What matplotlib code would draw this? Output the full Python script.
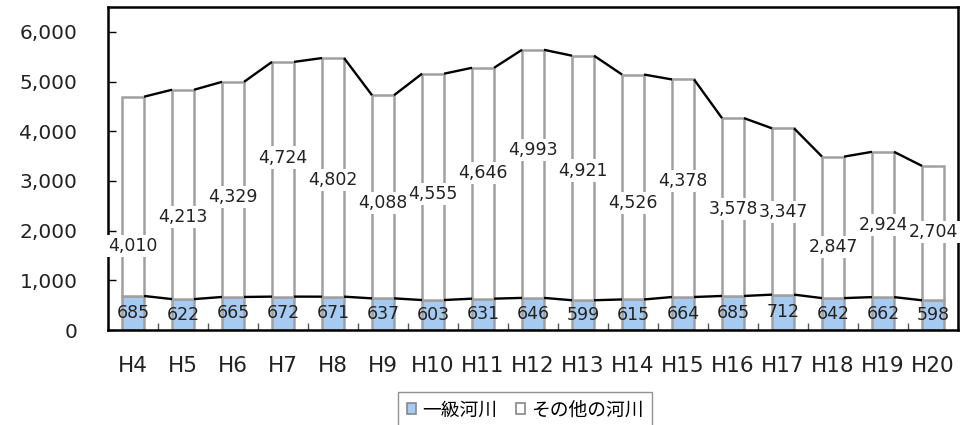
import matplotlib
matplotlib.use("Agg")
import matplotlib.pyplot as plt
from matplotlib.patches import Patch
import numpy as np

plt.rcParams['font.family'] = ['DejaVu Sans', 'Noto Sans CJK JP']

# data
years = ['H4', 'H5', 'H6', 'H7', 'H8', 'H9', 'H10', 'H11', 'H12', 'H13',
         'H14', 'H15', 'H16', 'H17', 'H18', 'H19', 'H20']
class1 = [685, 622, 665, 672, 671, 637, 603, 631, 646, 599,
          615, 664, 685, 712, 642, 662, 598]
others = [4010, 4213, 4329, 4724, 4802, 4088, 4555, 4646, 4993, 4921,
          4526, 4378, 3578, 3347, 2847, 2924, 2704]
# where Excel left the labels of the upper series (data units)
label_y = [1690, 2280, 2680, 3470, 3020, 2560, 2740, 3160, 3630, 3210,
           2560, 3000, 2440, 2380, 1670, 2120, 1980]
series_names = ['一級河川', 'その他の河川']

blue = '#a6caf0'
edge = '#a0a0a0'
w = 0.44

fig = plt.figure(figsize=(9.76, 4.25), dpi=100)
ax = fig.add_axes([0.1107, 0.2235, 0.8709, 0.7600])

x = np.arange(len(years))
c1 = np.array(class1)
tot = c1 + np.array(others)

ax.bar(x, class1, width=w, color=blue, edgecolor=edge, linewidth=1.8, zorder=2)
ax.bar(x, others, width=w, bottom=class1, color='white', edgecolor=edge,
       linewidth=1.8, zorder=2)

# series lines between bars
for i in range(len(years) - 1):
    xs = [x[i] + w / 2, x[i + 1] - w / 2]
    ax.plot(xs, [c1[i], c1[i + 1]], color='black', lw=1.7, zorder=3,
            solid_capstyle='butt')
    ax.plot(xs, [tot[i], tot[i + 1]], color='black', lw=1.7, zorder=3,
            solid_capstyle='butt')

# data labels
for i in range(len(years)):
    ax.text(x[i], c1[i] / 2, f'{class1[i]:,}', ha='center', va='center',
            fontsize=12.5, color='#222222', zorder=4)
    ax.text(x[i], label_y[i], f'{others[i]:,}', ha='center', va='center',
            fontsize=12.5, color='#222222', zorder=5 + i,
            bbox=dict(facecolor='white', edgecolor='none', pad=1.5))

ax.set_xlim(-0.5, len(years) - 0.5)
ax.set_ylim(0, 6500)
ax.set_yticks(range(0, 7000, 1000))
ax.set_yticklabels([f'{v:,}' for v in range(0, 7000, 1000)])
ax.set_xticks(x)
ax.set_xticklabels(years)
ax.set_xticks(np.arange(-0.5, len(years), 1), minor=True)

ax.tick_params(axis='y', direction='in', length=6, width=1, labelsize=14.5,
               pad=22, colors='black', labelcolor='#222222')
ax.tick_params(axis='x', which='major', length=0, labelsize=15.5, pad=19,
               labelcolor='#222222')
ax.tick_params(axis='x', which='minor', direction='in', length=5, width=1,
               color='#555555')

for s in ax.spines.values():
    s.set_linewidth(1.8)
    s.set_color('black')

handles = [Patch(facecolor=blue, edgecolor='#888888', linewidth=1.2),
           Patch(facecolor='white', edgecolor='#888888', linewidth=1.2)]
fig.legend(handles, series_names, loc='upper center',
           bbox_to_anchor=(525 / 976, 1 - 392 / 425), ncol=2,
           fontsize=13.5, frameon=True, fancybox=False, edgecolor='#777777',
           handlelength=0.5, handleheight=0.5, handletextpad=0.3,
           columnspacing=1.0, borderpad=0.45, borderaxespad=0)

fig.savefig('out.png', dpi=100)
